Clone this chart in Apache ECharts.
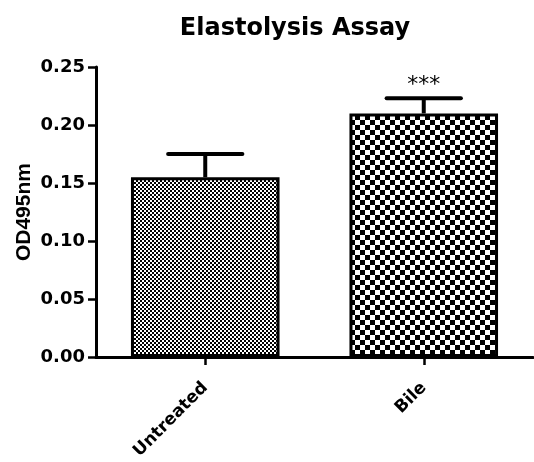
<!DOCTYPE html>
<html><head><meta charset="utf-8">
<script src="https://cdn.jsdelivr.net/npm/echarts@6/dist/echarts.min.js"></script>
<style>html,body{margin:0;padding:0;background:#fff}#c{width:534px;height:462px}</style>
</head><body><div id="c"></div>
<script>
var categories = ['Untreated', 'Bile'];
var means = [0.155, 0.210];
var errors = [0.020, 0.013];
var significance = ['', '***'];
var yTicks = [0, 0.05, 0.10, 0.15, 0.20, 0.25];

function checker(size) {
  var c = document.createElement('canvas');
  c.width = size * 2; c.height = size * 2;
  var ctx = c.getContext('2d');
  ctx.fillStyle = '#fff'; ctx.fillRect(0, 0, size * 2, size * 2);
  ctx.fillStyle = '#000';
  ctx.fillRect(0, 0, size, size);
  ctx.fillRect(size, size, size, size);
  return c;
}
var patterns = [checker(2), checker(5)];

var chart = echarts.init(document.getElementById('c'), null, {renderer: 'canvas'});
var wide = '"DejaVu Sans", sans-serif';
var arial = '"Liberation Sans", Arial, sans-serif';
chart.setOption({
  animation: false,
  title: {
    text: 'Elastolysis Assay', left: 290, top: 12, textAlign: 'center',
    textStyle: {fontFamily: wide, fontSize: 24, fontWeight: 'bold', color: '#000'}
  },
  grid: {left: 96, right: 1, top: 67, bottom: 104, containLabel: false},
  xAxis: {
    type: 'category', data: categories,
    axisLine: {lineStyle: {color: '#000', width: 3}},
    axisTick: {show: true, alignWithLabel: true, length: 8, lineStyle: {color: '#000', width: 2.5}},
    axisLabel: {rotate: 45, margin: 28, fontFamily: wide, fontSize: 17, fontWeight: 'bold', color: '#000'}
  },
  yAxis: {
    type: 'value', min: yTicks[0], max: yTicks[yTicks.length - 1], interval: 0.05,
    name: 'OD495nm', nameLocation: 'middle', nameGap: 61, nameRotate: 90, nameMoveOverlap: false,
    nameTextStyle: {fontFamily: arial, fontSize: 21, fontWeight: 'bold', color: '#000'},
    axisLine: {show: true, lineStyle: {color: '#000', width: 3}},
    axisTick: {show: true, length: 8, lineStyle: {color: '#000', width: 2.5}},
    splitLine: {show: false},
    axisLabel: {margin: 11, fontFamily: wide, fontSize: 18, fontWeight: 'bold', color: '#000',
      formatter: function (v) { return v.toFixed(2); }}
  },
  series: [{
    type: 'bar', barWidth: '68%',
    data: means.map(function (v, i) {
      return {value: v, itemStyle: {color: {image: patterns[i], repeat: 'repeat'}}};
    }),
    itemStyle: {borderColor: '#000', borderWidth: 3},
    z: 2
  }, {
    type: 'custom',
    data: means.map(function (v, i) { return [i, v, v + errors[i], significance[i]]; }),
    renderItem: function (params, api) {
      var i = api.value(0);
      var base = api.coord([i, api.value(1)]);
      var top = api.coord([i, api.value(2)]);
      var half = api.size([1, 0])[0] * 0.17;
      var lw = 4;
      var children = [
        {type: 'line', shape: {x1: base[0], y1: base[1], x2: top[0], y2: top[1]}, style: {stroke: '#000', lineWidth: lw}},
        {type: 'line', shape: {x1: top[0] - half, y1: top[1], x2: top[0] + half, y2: top[1]}, style: {stroke: '#000', lineWidth: lw, lineCap: 'round'}}
      ];
      var s = significance[params.dataIndex];
      if (s) {
        children.push({type: 'text', style: {text: s, x: top[0], y: top[1] - 2, textAlign: 'center', textVerticalAlign: 'bottom', font: '22px ' + wide, fill: '#000'}});
      }
      return {type: 'group', children: children};
    },
    z: 3
  }]
});
</script></body></html>
